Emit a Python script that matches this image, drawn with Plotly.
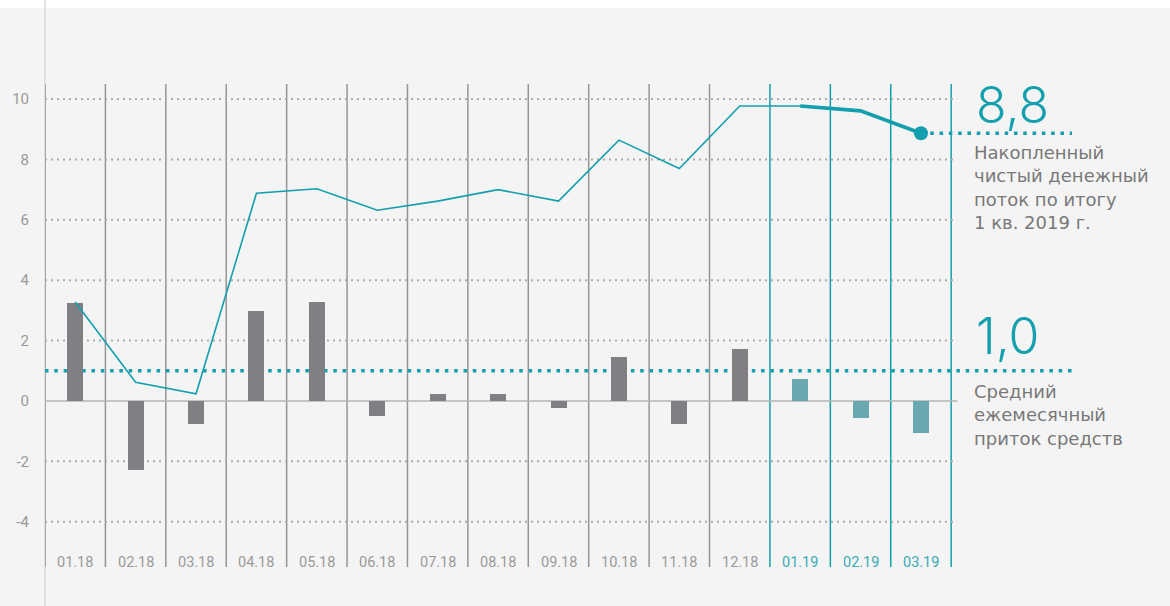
import plotly.graph_objects as go

months = ["01.18", "02.18", "03.18", "04.18", "05.18", "06.18", "07.18", "08.18",
          "09.18", "10.18", "11.18", "12.18", "01.19", "02.19", "03.19"]
monthly_flow = [3.25, -2.28, -0.75, 2.98, 3.28, -0.49, 0.23, 0.23,
                -0.22, 1.47, -0.75, 1.73, 0.73, -0.55, -1.05]
cumulative_flow = [3.28, 0.62, 0.24, 6.88, 7.03, 6.32, 6.62, 7.0,
                   6.62, 8.64, 7.7, 9.77, 9.77, 9.61, 8.87]
average_inflow = 1.0
y_ticks = [-4, -2, 0, 2, 4, 6, 8, 10]
y_tick_labels = ["-4", "-2", "0", "2", "4", "6", "8", "10"]
n_2018 = 12
total_label = "8,8"
total_desc = ["Накопленный", "чистый денежный", "поток по итогу", "1 кв. 2019 г."]
avg_label = "1,0"
avg_desc = ["Средний", "ежемесячный", "приток средств"]

TEAL = "#139fad"
GRAY_BAR = "#808084"
TEAL_BAR = "#6aa8b0"
GRID = "#ababab"
COL_GRAY = "#959595"
TEXT_GRAY = "#9a9a9a"
DESC_GRAY = "#787878"

xs = list(range(len(months)))
n = len(months)
x_end = n + 1.5  # extension for dotted leader lines

fig = go.Figure()

bar_colors = [GRAY_BAR if i < n_2018 else TEAL_BAR for i in xs]
fig.add_trace(go.Bar(x=xs, y=monthly_flow, marker=dict(color=bar_colors, line=dict(width=0)),
                     width=0.265, hoverinfo="skip"))

fig.add_trace(go.Scatter(x=xs[:n_2018 + 1], y=cumulative_flow[:n_2018 + 1], mode="lines",
                         line=dict(color=TEAL, width=1.6), hoverinfo="skip"))
fig.add_trace(go.Scatter(x=xs[n_2018:], y=cumulative_flow[n_2018:], mode="lines",
                         line=dict(color=TEAL, width=3.6), hoverinfo="skip"))
fig.add_trace(go.Scatter(x=[xs[-1]], y=[cumulative_flow[-1]], mode="markers",
                         marker=dict(color=TEAL, size=14), hoverinfo="skip"))

shapes = []
shapes.append(dict(type="rect", xref="paper", yref="paper", x0=-0.1, x1=1.2,
                   y0=1 + 76 / 483, y1=1 + 84 / 483, fillcolor="white", line=dict(width=0), layer="below"))
shapes.append(dict(type="line", xref="paper", yref="paper", x0=0, x1=0,
                   y0=-39 / 483, y1=1 + 84 / 483, line=dict(color="#d2d2d2", width=1.2), layer="below"))
for t in y_ticks:
    if t == 0:
        continue
    shapes.append(dict(type="line", xref="x", yref="y", x0=-0.5, x1=n - 0.4, y0=t, y1=t,
                       line=dict(color=GRID, width=2, dash="2px,4px"), layer="below"))
for i in range(n + 1):
    col = COL_GRAY if i < n_2018 else TEAL
    shapes.append(dict(type="line", xref="x", yref="paper", x0=i - 0.5, x1=i - 0.5, y0=0, y1=1,
                       line=dict(color=col, width=1.5), layer="below"))
shapes.append(dict(type="line", xref="x", yref="y", x0=-0.5, x1=n - 0.4, y0=0, y1=0,
                   line=dict(color="#b4b4b4", width=1.5), layer="below"))
shapes.append(dict(type="line", xref="x", yref="y", x0=-0.5, x1=x_end, y0=average_inflow, y1=average_inflow,
                   line=dict(color=TEAL, width=3.5, dash="3.5px,5.8px"), layer="below"))
shapes.append(dict(type="line", xref="x", yref="y", x0=xs[-1], x1=x_end,
                   y0=cumulative_flow[-1], y1=cumulative_flow[-1],
                   line=dict(color=TEAL, width=3.5, dash="3.5px,5.8px"), layer="above"))

annotations = []
for i, m in enumerate(months):
    annotations.append(dict(x=i, y=-5.35, xref="x", yref="y", text=m, showarrow=False,
                            xanchor="center", yanchor="middle",
                            font=dict(family="Roboto", size=14.5,
                                      color=TEXT_GRAY if i < n_2018 else "#3aaab6")))

text_x = n - 0.13
annotations.append(dict(x=text_x, y=9.8, xref="x", yref="y", text=total_label, showarrow=False,
                        xanchor="left", yanchor="middle",
                        font=dict(family="Inter", size=50, color=TEAL, weight=300)))
annotations.append(dict(x=text_x - 0.02, y=8.66, xref="x", yref="y", text="<br>".join(total_desc),
                        showarrow=False, xanchor="left", yanchor="top", align="left",
                        font=dict(family="DejaVu Sans", size=18, color=DESC_GRAY)))
annotations.append(dict(x=text_x, y=2.16, xref="x", yref="y", text=avg_label, showarrow=False,
                        xanchor="left", yanchor="middle",
                        font=dict(family="Inter", size=50, color=TEAL, weight=300)))
annotations.append(dict(x=text_x - 0.02, y=0.74, xref="x", yref="y", text="<br>".join(avg_desc),
                        showarrow=False, xanchor="left", yanchor="top", align="left",
                        font=dict(family="DejaVu Sans", size=18, color=DESC_GRAY)))

fig.update_layout(
    width=1170, height=606,
    margin=dict(l=43, r=98, t=84, b=39),
    paper_bgcolor="#f4f4f4", plot_bgcolor="#f4f4f4",
    showlegend=False,
    shapes=shapes, annotations=annotations,
    xaxis=dict(range=[-0.5, x_end], showgrid=False, zeroline=False, showticklabels=False,
               showline=False, fixedrange=True),
    yaxis=dict(range=[-5.5, 10.5], tickvals=y_ticks, ticktext=y_tick_labels, showgrid=False,
               zeroline=False, showline=False, ticks="", ticklabelstandoff=15,
               tickfont=dict(family="Roboto", size=15, color=TEXT_GRAY), fixedrange=True),
    bargap=0,
)

fig.write_html("out.html")
